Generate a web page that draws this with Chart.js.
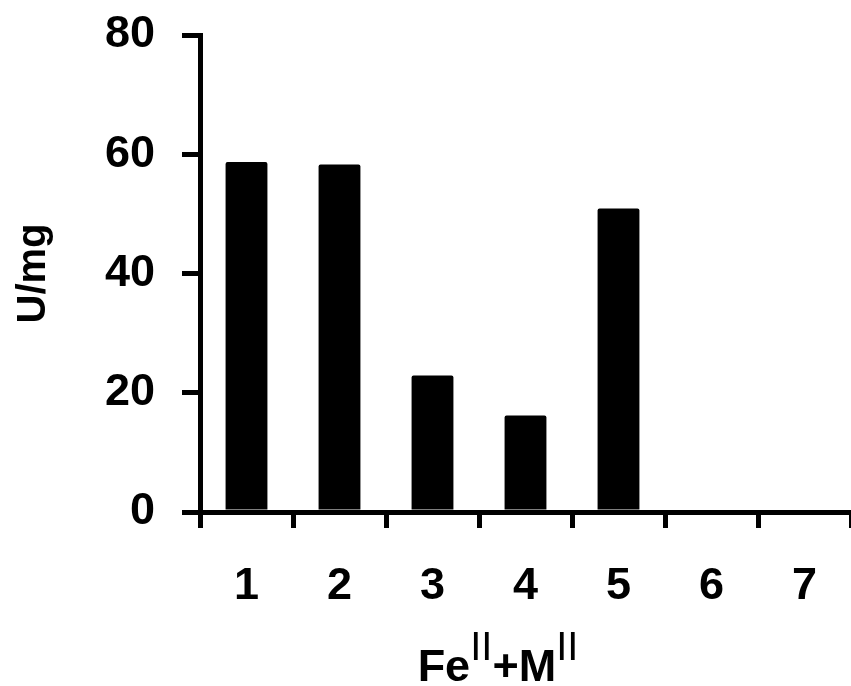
<!DOCTYPE html>
<html><head><meta charset="utf-8">
<script src="https://cdn.jsdelivr.net/npm/chart.js@4.4.0/dist/chart.umd.min.js"></script>
<style>html,body{margin:0;padding:0;background:#fff;}#wrap{width:851px;height:686px;}</style>
</head><body><div id="wrap"><canvas id="c" width="851" height="686"></canvas></div>
<script>
const categories = ['1', '2', '3', '4', '5', '6', '7'];
const activity = [58.7, 58.3, 22.9, 16.2, 50.9, 0, 0];
const yMin = 0, yMax = 80, yStep = 20;
const yTitle = 'U/mg';
// x title: [text, isSuperscript]
const xTitleParts = [['Fe', false], ['II', true], ['+M', false], ['II', true]];

const FONT = '"Liberation Sans", Arial, sans-serif';

const xTitlePlugin = {
  id: 'xTitle',
  afterDraw(chart) {
    const ctx = chart.ctx;
    ctx.save();
    ctx.fillStyle = '#000';
    ctx.textBaseline = 'alphabetic';
    ctx.textAlign = 'left';
    const mainFont = 'bold 45px ' + FONT;
    const supFont = '40px ' + FONT;
    let total = 0;
    const widths = xTitleParts.map(([t, sup]) => {
      ctx.font = sup ? supFont : mainFont;
      const w = ctx.measureText(t).width;
      total += w;
      return w;
    });
    let x = 498 - total / 2;
    xTitleParts.forEach(([t, sup], i) => {
      ctx.font = sup ? supFont : mainFont;
      ctx.fillText(t, x, sup ? 660 : 681);
      x += widths[i];
    });
    ctx.restore();
  }
};

new Chart(document.getElementById('c'), {
  type: 'bar',
  data: {
    labels: categories,
    datasets: [{
      data: activity,
      backgroundColor: '#000',
      borderWidth: 0,
      borderRadius: 2,
      barPercentage: 0.45,
      categoryPercentage: 1
    }]
  },
  options: {
    responsive: false,
    animation: false,
    devicePixelRatio: 1,
    layout: { padding: { top: 35, right: -2, left: 0, bottom: 0 } },
    plugins: { legend: { display: false }, tooltip: { enabled: false } },
    scales: {
      x: {
        type: 'category',
        offset: true,
        afterFit(s) { s.height = 174; },
        grid: { offset: true, drawOnChartArea: false, drawTicks: true, tickLength: 16, lineWidth: 5, color: '#000' },
        border: { display: true, width: 5, color: '#000' },
        ticks: { color: '#000', font: { family: FONT, size: 45, weight: 'bold' }, padding: 32, maxRotation: 0 }
      },
      y: {
        min: yMin, max: yMax,
        afterFit(s) { s.width = 200; s.paddingTop = 0; },
        grid: { drawOnChartArea: false, drawTicks: true, tickLength: 18, lineWidth: 5, color: '#000' },
        border: { display: true, width: 5, color: '#000' },
        ticks: { stepSize: yStep, color: '#000', font: { family: FONT, size: 45, weight: 'bold' }, padding: 27 },
        title: { display: true, text: yTitle, color: '#000', font: { family: FONT, size: 40, weight: 'bold' }, padding: { top: 10, bottom: 0 } }
      }
    }
  },
  plugins: [xTitlePlugin]
});
</script></body></html>
